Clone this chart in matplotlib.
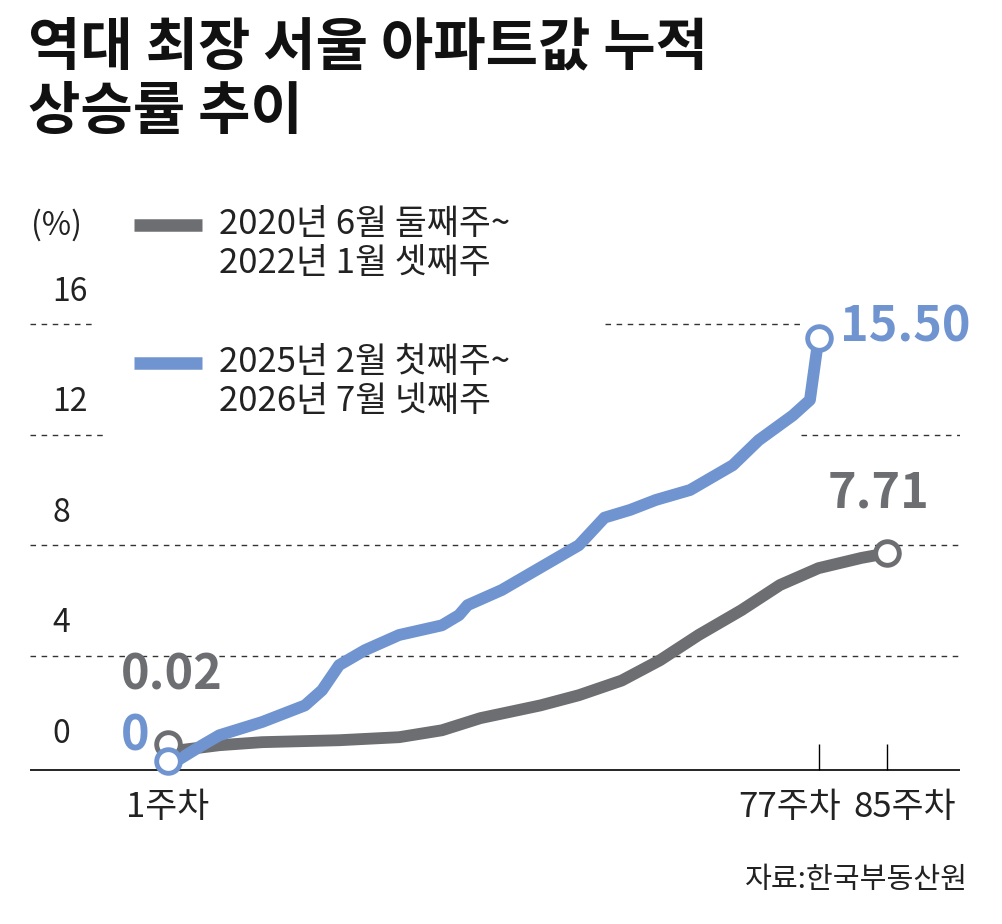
import matplotlib
import matplotlib.pyplot as plt

matplotlib.use("agg")
plt.rcParams["font.family"] = ["Noto Sans CJK KR", "DejaVu Sans"]

gray = "#6d6e71"
blue = "#7094d0"

weeks_old = [1, 2.4, 7, 12, 21, 28, 33, 37.5, 44.5, 49, 54, 58.5, 63, 68, 72.5, 77, 82, 85]
rate_old = [0.02, 0.58, 0.76, 0.87, 0.94, 1.05, 1.3, 1.74, 2.2, 2.57, 3.1, 3.84, 4.75, 5.65, 6.56, 7.17, 7.54, 7.71]

weeks_new = [1, 5, 7, 12, 17, 19, 21, 24, 28, 33, 35, 36, 40, 45, 49, 52, 55, 58, 62, 64, 67, 70, 74, 76, 77]
rate_new = [0, 0.76, 1.12, 1.6, 2.2, 2.75, 3.66, 4.2, 4.75, 5.1, 5.47, 5.83, 6.38, 7.28, 8.0, 9.0,
            9.28, 9.64, 10.0, 10.36, 10.9, 11.8, 12.7, 13.26, 15.5]

y_ticks = [0, 4, 8, 12, 16]
legend_old = "2020년 6월 둘째주~\n2022년 1월 셋째주"
legend_new = "2025년 2월 첫째주~\n2026년 7월 넷째주"

fig = plt.figure(figsize=(10.02, 9.24), dpi=100)
ax = fig.add_axes([30 / 1002, 1 - 780 / 924, 930 / 1002, 580 / 924])
ax.set_xlim(-15.12, 93.53)
ax.set_ylim(-0.5, 20.5)
ax.axis("off")

# dashed grid lines (segments where reference shows them)
for y in [4, 8]:
    ax.axhline(y, color="#333333", lw=1, ls=(0, (4, 4)))
ax.hlines(12, -15.12, -6.5, color="#333333", lw=1, ls=(0, (4, 4)))
ax.hlines(12, 75, 93.53, color="#333333", lw=1, ls=(0, (4, 4)))
ax.hlines(16, -15.12, -7.5, color="#333333", lw=1, ls=(0, (4, 4)))
ax.hlines(16, 52, 75, color="#333333", lw=1, ls=(0, (4, 4)))
for y in y_ticks:
    ax.text(-12.5, y + 0.6, str(y), fontsize=23, color="#222222", va="bottom", ha="left")
ax.text(-15, 19.6, "(%)", fontsize=23, color="#222222", va="center", ha="left")

ax.axhline(-0.15, color="black", lw=1.2)
for w in [77, 85]:
    ax.vlines(w, -0.15, 0.8, color="black", lw=1)

ax.plot(weeks_old, rate_old, color=gray, lw=8.5, solid_capstyle="round")
ax.plot(weeks_new, rate_new, color=blue, lw=8.5, solid_capstyle="round")
ax.plot(weeks_old[0], rate_old[0] + 0.8, "o", ms=17, mfc="white", mec=gray, mew=3.5, clip_on=False)
ax.plot(weeks_old[-1], rate_old[-1], "o", ms=17, mfc="white", mec=gray, mew=3.5, clip_on=False)
ax.plot(weeks_new[0], rate_new[0] + 0.2, "o", ms=17, mfc="white", mec=blue, mew=3.5, clip_on=False)
ax.plot(weeks_new[-1], rate_new[-1], "o", ms=17, mfc="white", mec=blue, mew=3.5, clip_on=False)

ax.text(-4.5, 3.3, f"{rate_old[0]:.2f}", fontsize=35, fontweight="bold", color=gray, ha="left", va="center")
ax.text(-4.5, 1.1, f"{rate_new[0]:.0f}", fontsize=35, fontweight="bold", color=blue, ha="left", va="center")
ax.text(79.5, 15.9, f"{rate_new[-1]:.2f}", fontsize=35, fontweight="bold", color=blue, ha="left", va="center")
ax.text(84, 9.9, f"{rate_old[-1]:.2f}", fontsize=35, fontweight="bold", color=gray, ha="center", va="center")

# legend
ax.plot([-3, 5], [19.6, 19.6], color=gray, lw=9, solid_capstyle="butt")
ax.text(7, 18.9, legend_old, fontsize=25, color="#222222", va="center", ha="left", linespacing=1.15)
ax.plot([-3, 5], [14.6, 14.6], color=blue, lw=9, solid_capstyle="butt")
ax.text(7, 13.9, legend_new, fontsize=25, color="#222222", va="center", ha="left", linespacing=1.15)

# x labels
fig.text(168 / 1002, 1 - 808 / 924, "1주차", fontsize=25, ha="center", va="center", color="#222222")
fig.text(790 / 1002, 1 - 808 / 924, "77주차", fontsize=25, ha="center", va="center", color="#222222")
fig.text(905 / 1002, 1 - 808 / 924, "85주차", fontsize=25, ha="center", va="center", color="#222222")
fig.text(968 / 1002, 1 - 880 / 924, "자료:한국부동산원", fontsize=21, ha="right", va="center", color="#222222")

fig.text(28 / 1002, 1 - 18 / 924, "역대 최장 서울 아파트값 누적\n상승률 추이", fontsize=41,
         fontweight="bold", ha="left", va="top", color="#111111", linespacing=1.15)

fig.savefig("out.png", dpi=100)
